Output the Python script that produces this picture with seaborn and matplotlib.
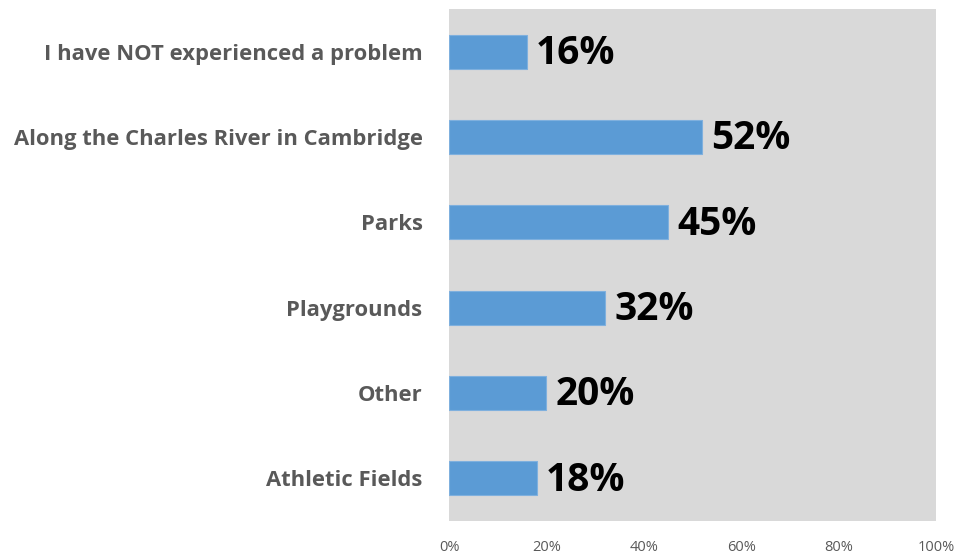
import matplotlib
matplotlib.use("Agg")
import matplotlib.pyplot as plt
import pandas as pd
import seaborn as sns
from matplotlib.ticker import PercentFormatter

categories = ["I have NOT experienced a problem", "Along the Charles River in Cambridge",
              "Parks", "Playgrounds", "Other", "Athletic Fields"]
values = [16, 52, 45, 32, 20, 18]
xticks = [0, 20, 40, 60, 80, 100]

df = pd.DataFrame({"place": categories, "pct": values})

sns.set_style("white")
plt.rcParams["font.family"] = ["Open Sans", "DejaVu Sans"]

fig = plt.figure(figsize=(9.59, 5.54), dpi=100)
ax = fig.add_axes([449 / 959, 1 - 521 / 554, 487 / 959, 512 / 554])
ax.set_facecolor("#d9d9d9")

sns.barplot(data=df, x="pct", y="place", color="#5b9bd5", saturation=1,
            width=0.4, ax=ax, edgecolor="#7fb0de", linewidth=0.8)

for i, v in enumerate(values):
    ax.text(v + 1.9, i + 0.02, f"{v}%", va="center", ha="left",
            fontsize=28, fontweight="bold", color="black")

ax.set_xlim(0, 100)
ax.set_ylim(5.5, -0.5)
ax.set_xticks(xticks)
ax.xaxis.set_major_formatter(PercentFormatter(decimals=0))
ax.tick_params(axis="x", length=0, pad=14, labelsize=10.5, labelcolor="#595959")
ax.tick_params(axis="y", length=0, pad=19, labelsize=15.8, labelcolor="#595959")
for lab in ax.get_yticklabels():
    lab.set_fontweight("bold")
ax.set_xlabel("")
ax.set_ylabel("")
for s in ax.spines.values():
    s.set_visible(False)

fig.savefig("out.png", dpi=100)
